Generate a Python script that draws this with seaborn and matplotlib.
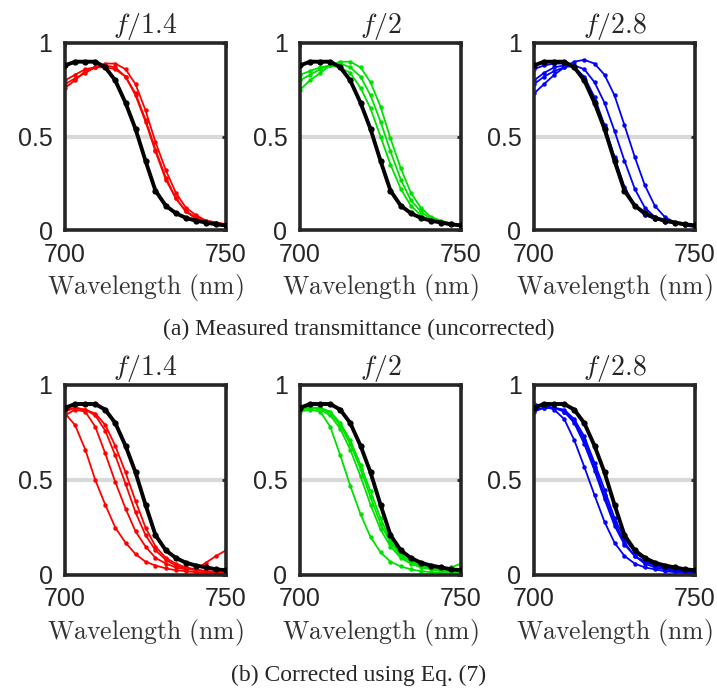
import matplotlib
matplotlib.use("Agg")
import matplotlib.pyplot as plt
import seaborn as sns
import pandas as pd

# ---------------- data ----------------
wavelength = [700.0, 703.1, 706.3, 709.4, 712.5, 715.6, 718.8, 721.9, 725.0,
              728.1, 731.3, 734.4, 737.5, 740.6, 743.8, 746.9, 750.0]

reference = [0.88, 0.90, 0.90, 0.90, 0.87, 0.80, 0.68, 0.54, 0.37, 0.21, 0.13,
             0.09, 0.065, 0.05, 0.04, 0.03, 0.025]

apertures = ["$f/1.4$", "$f/2$", "$f/2.8$"]
captions = ["(a) Measured transmittance (uncorrected)", "(b) Corrected using Eq. (7)"]

# measured (uncorrected)
meas_f14 = [
    [0.78, 0.81, 0.84, 0.87, 0.89, 0.89, 0.86, 0.78, 0.64, 0.47, 0.32, 0.20, 0.12, 0.08, 0.05, 0.04, 0.03],
    [0.76, 0.80, 0.85, 0.87, 0.88, 0.87, 0.82, 0.72, 0.58, 0.42, 0.27, 0.17, 0.10, 0.07, 0.05, 0.04, 0.03],
    [0.80, 0.83, 0.86, 0.87, 0.87, 0.86, 0.82, 0.73, 0.59, 0.43, 0.28, 0.17, 0.10, 0.06, 0.04, 0.03, 0.025],
]
meas_f2 = [
    [0.75, 0.80, 0.84, 0.88, 0.90, 0.90, 0.87, 0.79, 0.66, 0.49, 0.33, 0.20, 0.12, 0.07, 0.05, 0.035, 0.03],
    [0.80, 0.83, 0.86, 0.88, 0.89, 0.87, 0.82, 0.72, 0.58, 0.42, 0.27, 0.16, 0.10, 0.06, 0.04, 0.03, 0.025],
    [0.83, 0.85, 0.87, 0.88, 0.87, 0.84, 0.76, 0.65, 0.50, 0.35, 0.22, 0.13, 0.08, 0.05, 0.04, 0.03, 0.02],
]
meas_f28 = [
    [0.73, 0.78, 0.83, 0.87, 0.90, 0.91, 0.89, 0.83, 0.72, 0.56, 0.39, 0.24, 0.13, 0.07, 0.04, 0.025, 0.015],
    [0.78, 0.82, 0.85, 0.87, 0.88, 0.86, 0.79, 0.68, 0.53, 0.37, 0.22, 0.12, 0.07, 0.05, 0.035, 0.025, 0.02],
    [0.80, 0.84, 0.87, 0.88, 0.87, 0.82, 0.71, 0.56, 0.39, 0.23, 0.13, 0.08, 0.06, 0.045, 0.035, 0.03, 0.02],
    [0.86, 0.88, 0.89, 0.89, 0.87, 0.81, 0.69, 0.55, 0.38, 0.22, 0.13, 0.08, 0.06, 0.05, 0.04, 0.03, 0.02],
]

# corrected
corr_f14 = [
    [0.85, 0.79, 0.66, 0.50, 0.37, 0.25, 0.17, 0.11, 0.07, 0.05, 0.035, 0.025, 0.02, 0.015, 0.012, 0.01, 0.01],
    [0.84, 0.87, 0.86, 0.78, 0.64, 0.49, 0.35, 0.23, 0.15, 0.09, 0.06, 0.04, 0.03, 0.03, 0.065, 0.10, 0.13],
    [0.86, 0.88, 0.87, 0.84, 0.76, 0.63, 0.48, 0.33, 0.21, 0.13, 0.08, 0.05, 0.035, 0.025, 0.02, 0.015, 0.01],
    [0.87, 0.88, 0.87, 0.85, 0.79, 0.68, 0.54, 0.39, 0.25, 0.15, 0.09, 0.06, 0.04, 0.03, 0.02, 0.015, 0.01],
]
corr_f2 = [
    [0.86, 0.87, 0.86, 0.78, 0.63, 0.47, 0.32, 0.20, 0.12, 0.07, 0.045, 0.03, 0.02, 0.015, 0.01, 0.01, 0.01],
    [0.87, 0.88, 0.87, 0.84, 0.77, 0.66, 0.52, 0.37, 0.24, 0.15, 0.09, 0.06, 0.04, 0.03, 0.02, 0.015, 0.01],
    [0.87, 0.88, 0.88, 0.85, 0.79, 0.69, 0.56, 0.41, 0.27, 0.17, 0.10, 0.07, 0.05, 0.035, 0.03, 0.04, 0.06],
    [0.88, 0.88, 0.88, 0.86, 0.80, 0.71, 0.58, 0.44, 0.30, 0.18, 0.11, 0.07, 0.05, 0.035, 0.025, 0.02, 0.015],
]
corr_f28 = [
    [0.90, 0.89, 0.87, 0.82, 0.71, 0.57, 0.42, 0.28, 0.17, 0.10, 0.06, 0.04, 0.03, 0.02, 0.015, 0.01, 0.01],
    [0.86, 0.88, 0.88, 0.86, 0.80, 0.69, 0.55, 0.40, 0.26, 0.16, 0.10, 0.06, 0.04, 0.03, 0.02, 0.015, 0.01],
    [0.87, 0.88, 0.88, 0.86, 0.81, 0.71, 0.57, 0.42, 0.28, 0.17, 0.10, 0.07, 0.05, 0.035, 0.025, 0.02, 0.015],
    [0.89, 0.89, 0.88, 0.87, 0.82, 0.73, 0.59, 0.45, 0.30, 0.19, 0.12, 0.08, 0.05, 0.04, 0.03, 0.02, 0.015],
]

panel_colors = ["#ff0000", "#00e000", "#0000ff"]
rows = [[meas_f14, meas_f2, meas_f28], [corr_f14, corr_f2, corr_f28]]

# ---------------- style ----------------
sns.set_style("white")
plt.rcParams["font.family"] = ["Liberation Sans", "DejaVu Sans"]
plt.rcParams["mathtext.fontset"] = "cm"

fig = plt.figure(figsize=(7.17, 6.92), dpi=100)

W, H = 717.0, 692.0
col_left = [65, 300, 534]
col_width = 161
row_top = [43, 385]
row_height = [187, 190]

spine_col = "#262626"

for r in range(2):
    for c in range(3):
        left = col_left[c] / W
        bottom = 1 - (row_top[r] + row_height[r]) / H
        ax = fig.add_axes([left, bottom, col_width / W, row_height[r] / H])
        ax.axhline(0.5, color="#d9d9d9", lw=3, zorder=0)
        for i, curve in enumerate(rows[r][c]):
            df = pd.DataFrame({"wl": wavelength, "T": curve})
            sns.lineplot(data=df, x="wl", y="T", ax=ax, color=panel_colors[c],
                         lw=1.3, marker="o", markersize=3.2, markeredgewidth=0,
                         zorder=2)
        dref = pd.DataFrame({"wl": wavelength, "T": reference})
        sns.lineplot(data=dref, x="wl", y="T", ax=ax, color="black", lw=2.8,
                     marker="o", markersize=4.5, markeredgewidth=0, zorder=3)
        ax.set_xlim(700, 750)
        ax.set_ylim(0, 1)
        ax.set_xticks([700, 750])
        ax.set_xticklabels(["700", "750"])
        ax.set_yticks([0, 0.5, 1])
        ax.set_yticklabels(["0", "0.5", "1"])
        ax.tick_params(axis="both", direction="in", length=3, width=2,
                       color=spine_col, labelsize=18, labelcolor="#262626",
                       top=True, right=True)
        ax.tick_params(axis="y", pad=9)
        ax.tick_params(axis="x", pad=9)
        for s in ax.spines.values():
            s.set_color(spine_col)
            s.set_linewidth(2.6)
            s.set_visible(True)
        ax.set_ylabel("")
        ax.set_xlabel(r"$\mathrm{Wavelength\ (nm)}$", fontsize=18.5, color="#333333",
                      labelpad=4)
        ax.set_title(apertures[c], fontsize=20, pad=7)

fig.text(0.5, 1 - 329 / H, captions[0], ha="center", va="center",
         fontsize=17, family=["Liberation Serif", "DejaVu Serif"])
fig.text(0.5, 1 - 675 / H, captions[1], ha="center", va="center",
         fontsize=17, family=["Liberation Serif", "DejaVu Serif"])

fig.savefig("out.png", dpi=100)
